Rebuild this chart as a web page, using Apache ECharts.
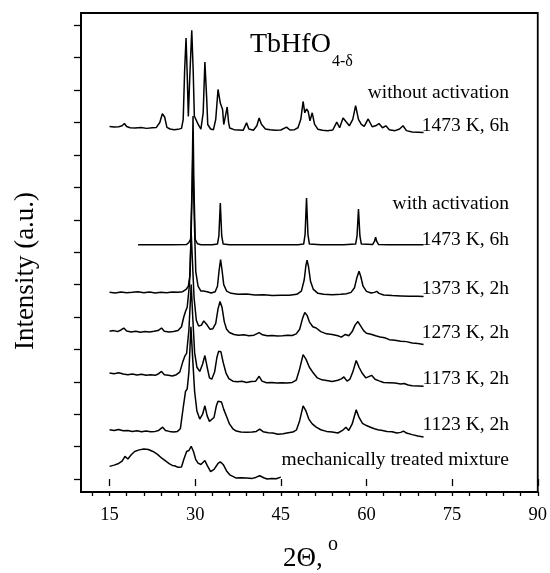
<!DOCTYPE html>
<html>
<head>
<meta charset="utf-8">
<script src="https://cdn.jsdelivr.net/npm/echarts@6/dist/echarts.min.js"></script>
<style>
html,body{margin:0;padding:0;background:#fff;}
#chart{width:550px;height:573px;}
</style>
</head>
<body>
<div id="chart"></div>
<script>
// ---- axis ticks / labels ----
const xLabelValues = [15, 30, 45, 60, 75, 90];
const xTickValues = [12, 15, 18, 21, 24, 27, 30, 33, 36, 39, 42, 45, 48, 51, 54, 57, 60, 63, 66, 69, 72, 75, 78, 81, 84, 87, 90];
const yTickValues = [0, 1, 2, 3, 4, 5, 6, 7, 8, 9, 10, 11, 12, 13, 14];

// ---- series names ----
const seriesNames = ['without activation 1473 K, 6h', 'with activation 1473 K, 6h', '1373 K, 2h', '1273 K, 2h', '1173 K, 2h', '1123 K, 2h', 'mechanically treated mixture'];

// ---- traces: [2Θ, stacked intensity (a.u.)] ----
const noAct1473 = [[15,10.88],[15.8,10.86],[16.6,10.87],[17.2,10.9],[17.6,10.97],[18.0,10.88],[18.6,10.84],[19.5,10.83],[20.5,10.85],[21.5,10.82],[22.5,10.84],[23.2,10.85],[23.8,11.0],[24.25,11.27],[24.65,11.17],[25.05,10.85],[25.6,10.8],[26.3,10.78],[27.0,10.79],[27.6,10.82],[27.9,11.09],[28.15,12.6],[28.4,13.61],[28.6,12.5],[28.8,11.19],[29.05,12.4],[29.4,13.85],[29.65,12.6],[29.85,11.2],[30.1,11.15],[30.5,10.95],[31.0,10.8],[31.4,11.3],[31.7,12.87],[32.0,11.8],[32.2,10.94],[32.7,10.8],[33.2,10.78],[33.6,11.1],[34.0,12.02],[34.4,11.6],[34.8,11.4],[35.0,10.94],[35.3,11.2],[35.6,11.48],[35.85,11.0],[36.05,10.83],[36.8,10.78],[37.6,10.77],[38.4,10.76],[39.0,10.99],[39.4,10.8],[40.2,10.76],[40.8,10.9],[41.2,11.14],[41.6,10.95],[42.3,10.8],[43.1,10.78],[44.0,10.76],[45.0,10.77],[46.0,10.86],[46.6,10.77],[47.4,10.78],[48.0,10.84],[48.5,11.1],[48.9,11.65],[49.2,11.3],[49.5,11.42],[49.8,11.34],[50.1,11.05],[50.5,11.3],[50.9,10.95],[51.5,10.79],[52.3,10.76],[53.2,10.75],[54.1,10.77],[54.8,11.01],[55.3,10.84],[55.9,11.14],[56.4,11.03],[57.0,10.9],[57.6,11.1],[58.1,11.52],[58.6,11.1],[59.1,10.94],[59.6,10.88],[60.3,11.11],[61.0,10.87],[61.6,10.9],[62.2,10.97],[62.8,10.84],[63.4,10.9],[64.0,10.78],[65.0,10.75],[65.8,10.8],[66.4,10.9],[67.0,10.75],[68.0,10.71],[69.0,10.7],[70.0,10.69]];

const act1473 = [[20,7.23],[22,7.23],[24,7.23],[26,7.23],[28.5,7.24],[28.9,7.3],[29.2,7.4],[29.45,9.0],[29.62,11.2],[29.78,9.0],[30.0,7.4],[30.4,7.26],[31,7.23],[33,7.23],[33.9,7.25],[34.15,7.5],[34.4,8.52],[34.65,7.5],[34.9,7.25],[36,7.23],[40,7.23],[44,7.23],[48,7.23],[49.0,7.25],[49.25,7.55],[49.5,8.67],[49.75,7.55],[50.0,7.25],[52,7.23],[56,7.23],[58.1,7.25],[58.35,7.5],[58.6,8.33],[58.85,7.5],[59.1,7.25],[61.1,7.24],[61.4,7.33],[61.6,7.46],[61.8,7.33],[62.1,7.24],[64,7.23],[67,7.23],[70,7.23]];

const k1373 = [[15,5.76],[16,5.74],[17,5.77],[18,5.75],[19,5.76],[20,5.78],[21,5.75],[22,5.77],[23,5.74],[24,5.76],[25,5.75],[26,5.77],[27,5.76],[27.8,5.78],[28.4,5.85],[28.8,5.95],[29.1,6.3],[29.35,8.0],[29.58,10.0],[29.85,8.0],[30.1,6.4],[30.5,5.95],[31.0,5.8],[31.4,5.8],[31.7,5.86],[32.1,5.78],[32.8,5.74],[33.5,5.78],[33.9,5.95],[34.2,6.45],[34.45,6.77],[34.7,6.45],[35.0,6.0],[35.5,5.8],[36.3,5.73],[37.5,5.7],[39,5.71],[40.5,5.68],[42,5.69],[43.5,5.66],[45,5.67],[46.5,5.67],[47.8,5.7],[48.6,5.8],[49.1,6.15],[49.4,6.6],[49.6,6.75],[49.85,6.55],[50.2,6.1],[50.7,5.85],[51.5,5.73],[52.5,5.7],[54,5.69],[55.5,5.7],[56.5,5.72],[57.3,5.76],[57.9,5.9],[58.3,6.2],[58.7,6.41],[59.0,6.25],[59.4,5.95],[60.0,5.79],[60.8,5.74],[61.4,5.76],[61.8,5.79],[62.2,5.73],[63,5.68],[64.5,5.66],[66,5.65],[67.5,5.64],[69,5.64],[70,5.63]];

const k1273 = [[15,4.56],[15.7,4.58],[16.4,4.55],[17.0,4.6],[17.5,4.66],[18.0,4.57],[18.8,4.54],[19.6,4.56],[20.4,4.53],[21.2,4.55],[22.0,4.54],[22.8,4.56],[23.5,4.58],[24.1,4.66],[24.6,4.56],[25.4,4.54],[26.2,4.55],[27.0,4.58],[27.6,4.7],[28.0,5.0],[28.3,5.17],[28.6,5.3],[29.0,6.0],[29.3,7.6],[29.55,6.6],[29.8,5.6],[30.2,4.9],[30.6,4.72],[31.1,4.75],[31.5,4.88],[31.75,4.92],[32.1,4.75],[32.6,4.62],[33.1,4.64],[33.6,4.8],[34.0,5.25],[34.35,5.48],[34.7,5.3],[35.1,4.85],[35.5,4.62],[36.0,4.52],[36.8,4.46],[37.6,4.44],[38.5,4.45],[39.4,4.42],[40.3,4.44],[41.2,4.52],[41.8,4.45],[42.6,4.42],[43.5,4.43],[44.4,4.41],[45.3,4.42],[46.2,4.44],[47.0,4.43],[47.7,4.48],[48.3,4.62],[48.8,4.95],[49.2,5.14],[49.6,5.05],[50.0,4.85],[50.6,4.7],[51.2,4.66],[52.0,4.55],[53.0,4.48],[54.0,4.46],[55.0,4.42],[55.6,4.38],[56.3,4.46],[56.9,4.42],[57.5,4.55],[58.0,4.75],[58.5,4.86],[59.0,4.72],[59.5,4.58],[60.0,4.5],[60.8,4.47],[61.6,4.42],[62.4,4.38],[63.2,4.36],[64.0,4.3],[65.0,4.28],[66.0,4.25],[67.0,4.24],[68.0,4.2],[69.0,4.18],[70.0,4.15]];

const k1173 = [[15,3.27],[15.8,3.25],[16.6,3.28],[17.4,3.24],[18.2,3.22],[19.0,3.24],[19.8,3.21],[20.6,3.23],[21.4,3.2],[22.2,3.22],[23.0,3.2],[23.6,3.25],[24.1,3.32],[24.6,3.22],[25.3,3.2],[26.0,3.18],[26.7,3.22],[27.3,3.3],[27.8,3.6],[28.2,3.8],[28.5,3.88],[28.9,4.6],[29.3,6.0],[29.6,4.9],[29.9,3.9],[30.3,3.45],[30.8,3.32],[31.3,3.55],[31.7,3.81],[32.1,3.45],[32.5,3.12],[32.9,3.08],[33.4,3.3],[33.8,3.75],[34.1,3.94],[34.5,3.93],[34.9,3.6],[35.4,3.27],[35.9,3.1],[36.6,3.02],[37.4,3.0],[38.2,3.02],[39.0,2.98],[39.8,3.01],[40.6,3.02],[41.2,3.17],[41.7,3.02],[42.5,2.97],[43.4,2.98],[44.3,2.96],[45.2,2.97],[46.1,2.96],[47.0,2.98],[47.7,3.05],[48.3,3.4],[48.9,3.84],[49.4,3.7],[50.0,3.45],[50.7,3.27],[51.4,3.12],[52.2,3.06],[53.0,3.04],[54.0,3.01],[55.0,3.05],[55.6,3.09],[56.05,3.15],[56.6,3.02],[57.1,3.08],[57.6,3.3],[58.2,3.66],[58.7,3.45],[59.2,3.28],[59.9,3.12],[60.4,3.16],[60.9,3.2],[61.5,3.08],[62.2,3.03],[63.0,2.98],[64.0,2.97],[65.0,2.96],[66.0,2.93],[66.6,2.95],[67.3,2.9],[68.0,2.88],[69.0,2.87],[70.0,2.86]];

const k1123 = [[15,1.52],[15.8,1.5],[16.6,1.53],[17.4,1.49],[18.2,1.5],[19.0,1.47],[19.8,1.49],[20.6,1.46],[21.4,1.48],[22.2,1.46],[23.0,1.47],[23.6,1.5],[24.3,1.6],[24.8,1.5],[25.5,1.47],[26.2,1.45],[26.9,1.47],[27.4,1.55],[27.9,2.2],[28.3,2.7],[28.6,2.78],[28.9,3.3],[29.25,4.7],[29.6,3.6],[29.9,2.7],[30.3,2.1],[30.8,1.85],[31.3,2.0],[31.7,2.26],[32.1,1.95],[32.5,1.78],[32.8,1.73],[33.3,1.9],[33.7,2.25],[34.0,2.4],[34.6,2.38],[35.0,2.15],[35.5,1.93],[36.0,1.7],[36.6,1.55],[37.2,1.48],[38.0,1.45],[39.0,1.44],[40.0,1.45],[40.7,1.47],[41.3,1.54],[41.9,1.46],[42.8,1.43],[43.6,1.42],[44.5,1.38],[45.4,1.4],[46.3,1.43],[47.1,1.45],[47.75,1.52],[48.3,1.8],[48.9,2.26],[49.4,2.1],[49.9,1.85],[50.5,1.7],[51.2,1.6],[52.0,1.52],[53.0,1.47],[54.0,1.45],[55.0,1.42],[55.8,1.5],[56.4,1.6],[56.9,1.5],[57.5,1.7],[58.2,2.14],[58.7,1.9],[59.3,1.72],[60.0,1.65],[60.7,1.6],[61.4,1.55],[62.0,1.52],[62.8,1.5],[63.6,1.47],[64.5,1.46],[65.3,1.42],[66.0,1.44],[66.5,1.48],[67.0,1.42],[68.0,1.37],[69.0,1.33],[70.0,1.3]];

const mixture = [[15,0.39],[15.8,0.43],[16.6,0.48],[17.2,0.55],[17.7,0.7],[18.2,0.62],[18.8,0.75],[19.4,0.85],[20.2,0.9],[21.0,0.93],[21.8,0.91],[22.6,0.85],[23.4,0.76],[24.1,0.65],[24.8,0.56],[25.5,0.47],[26.0,0.42],[26.4,0.41],[27.0,0.36],[27.6,0.37],[28.0,0.6],[28.5,0.85],[28.9,0.88],[29.3,1.01],[29.7,0.85],[30.1,0.6],[30.5,0.49],[31.0,0.45],[31.7,0.57],[32.1,0.42],[32.7,0.23],[33.3,0.3],[34.0,0.48],[34.4,0.53],[34.9,0.45],[35.5,0.25],[36.05,0.13],[36.6,0.08],[37.2,0.03],[38.0,0.04],[39.0,0.03],[40.0,0.02],[40.6,0.05],[41.3,0.1],[42.0,0.04],[42.6,0.0],[43.4,0.02],[44.2,0.01],[45.0,0.06]];

// ---- annotation texts ----
const annotationTexts = ['without activation', '1473 K, 6h', 'with activation', '1473 K, 6h', '1373 K, 2h', '1273 K, 2h', '1173 K, 2h', '1123 K, 2h', 'mechanically treated mixture'];
const titleMain = 'TbHfO';
const titleSub = '4-δ';
const xTitle = '2Θ,';
const xTitleDegree = 'o';
const yTitle = 'Intensity (a.u.)';

// ---------------------------------------------------------------
const FONT = '"Liberation Serif", "Times New Roman", serif';
const traces = [noAct1473, act1473, k1373, k1273, k1173, k1123, mixture];
const GRID = { left: 81, right: 12, top: 13, bottom: 81 };

function txt(text, x, baseline, fs, align) {
  return {
    type: 'text', x: x, y: baseline - 0.3375 * fs, silent: true,
    style: { text: text, font: fs + 'px ' + FONT, fill: '#000',
      align: align, verticalAlign: 'middle', textAlign: align, textVerticalAlign: 'middle' }
  };
}

const annBaselines = [99.3, 132, 210.7, 246, 295, 339.3, 385, 431.7, 466.7];
const graphics = annotationTexts.map((t, i) => txt(t, 509, annBaselines[i], 19.5, 'right'));
graphics.push(txt(titleMain, 250, 53.8, 28, 'left'));
graphics.push(txt(titleSub, 332, 67, 16, 'left'));
graphics.push(txt(xTitle, 283, 568.3, 27, 'left'));
graphics.push(txt(xTitleDegree, 328, 551.7, 20, 'left'));
graphics.push({
  type: 'text', x: 26, y: 271, rotation: Math.PI / 2, silent: true,
  style: { text: yTitle, font: '27px ' + FONT, fill: '#000', align: 'center', verticalAlign: 'middle', textAlign: 'center', textVerticalAlign: 'middle' }
});

const chart = echarts.init(document.getElementById('chart'), null, { renderer: 'canvas' });
chart.setOption({
  animation: false,
  backgroundColor: '#fff',
  grid: [
    Object.assign({ show: true, borderColor: '#000', borderWidth: 1.8, backgroundColor: 'transparent' }, GRID),
    Object.assign({ show: false }, GRID)
  ],
  xAxis: [
    {
      type: 'value', gridIndex: 0, min: 10, max: 90,
      axisLine: { show: true, onZero: false, lineStyle: { color: '#000', width: 1.8 } },
      axisTick: { show: true, customValues: xTickValues, length: 4, lineStyle: { color: '#000', width: 1.3 } },
      axisLabel: { show: true, customValues: xLabelValues, color: '#000', fontSize: 18.5, fontFamily: FONT, margin: 14 },
      splitLine: { show: false }
    },
    {
      type: 'value', gridIndex: 1, min: 10, max: 90,
      axisLine: { show: false },
      axisTick: { show: true, customValues: xLabelValues, length: 7, lineStyle: { color: '#000', width: 1.3 } },
      axisLabel: { show: false },
      splitLine: { show: false }
    }
  ],
  yAxis: [
    {
      type: 'value', gridIndex: 0, min: -0.4, max: 14.38,
      axisLine: { show: true, onZero: false, lineStyle: { color: '#000', width: 1.8 } },
      axisTick: { show: true, customValues: yTickValues, length: 7, lineStyle: { color: '#000', width: 1.3 } },
      axisLabel: { show: false },
      splitLine: { show: false }
    },
    { type: 'value', gridIndex: 1, min: -0.4, max: 14.38, show: false }
  ],
  series: traces.map((d, i) => ({
    name: seriesNames[i], type: 'line', xAxisIndex: 0, yAxisIndex: 0,
    data: d, showSymbol: false, symbol: 'none', smooth: false,
    lineStyle: { color: '#000', width: 1.5 }, silent: true
  })),
  graphic: graphics
});
</script>
</body>
</html>
